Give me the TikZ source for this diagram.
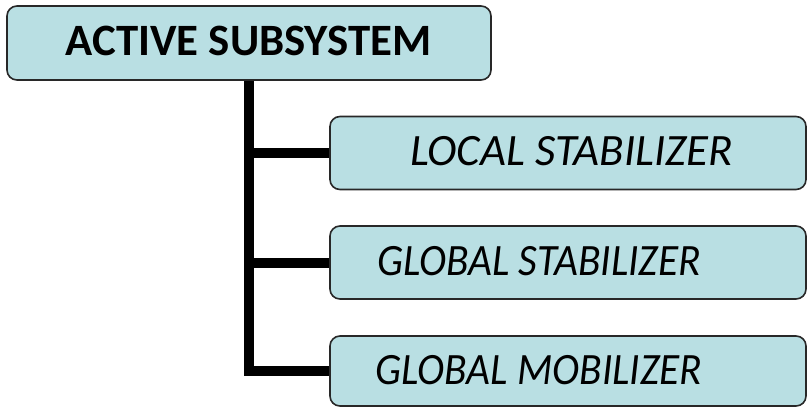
\documentclass[tikz,border=0pt]{standalone}
\usepackage{fontspec}
\setmainfont{Carlito}
\definecolor{boxfill}{RGB}{185,223,227}
\definecolor{boxline}{RGB}{40,40,40}
\newcommand{\narrowtext}[1]{\scalebox{0.92}[1]{#1}}
\tikzset{
  box/.style={draw=boxline, line width=1.6bp, fill=boxfill, rounded corners=10bp, rectangle, inner sep=0pt},
  conn/.style={line width=10bp, draw=black},
  lbl/.style={anchor=base, inner sep=0pt, font=\fontsize{45}{50}\selectfont\itshape},
  toplbl/.style={anchor=base, inner sep=0pt, font=\fontsize{45}{50}\selectfont\bfseries},
}
\begin{document}
\begin{tikzpicture}[x=1bp,y=-1bp]
\useasboundingbox (0,0) rectangle (808,408);
\node[box, minimum width=484bp, minimum height=74bp] (top) at (249,43) {};
\node[box, minimum width=476bp, minimum height=73bp] (loc) at (568,153) {};
\node[box, minimum width=476bp, minimum height=73bp] (gst) at (568,262.5) {};
\node[box, minimum width=476bp, minimum height=70bp] (gmo) at (568,371) {};
\draw[conn] (top.south) |- (gmo.west);
\draw[conn] (top.south |- loc.west) -- (loc.west);
\draw[conn] (top.south |- gst.west) -- (gst.west);
\node[toplbl] (ttop) at (248.5,55) {ACTIVE SUBSYSTEM};
\node[lbl] (tloc) at (571.5,165) {LOCAL STABILIZER};
\node[lbl] (tgst) at (539,275) {\narrowtext{GLOBAL STABILIZER}};
\node[lbl] (tgmo) at (539,384.5) {\narrowtext{GLOBAL MOBILIZER}};
\end{tikzpicture}
\end{document}
